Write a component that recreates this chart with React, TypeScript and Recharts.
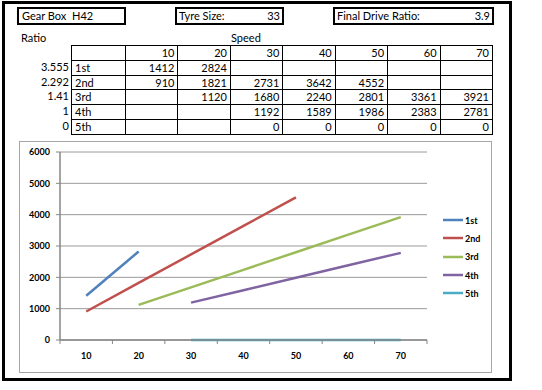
import React from "react";
import { LineChart, Line, XAxis, YAxis, CartesianGrid, Legend } from "recharts";

const speeds = [10, 20, 30, 40, 50, 60, 70];
const gears = ["1st", "2nd", "3rd", "4th", "5th"];
const ratios = ["3.555", "2.292", "1.41", "1", "0"];
const rpm1st = [1412, 2824, null, null, null, null, null];
const rpm2nd = [910, 1821, 2731, 3642, 4552, null, null];
const rpm3rd = [null, 1120, 1680, 2240, 2801, 3361, 3921];
const rpm4th = [null, null, 1192, 1589, 1986, 2383, 2781];
const rpm5th = [null, null, 0, 0, 0, 0, 0];
const yTicks = [0, 1000, 2000, 3000, 4000, 5000, 6000];
const colors = ["#4F81BD", "#C0504D", "#9BBB59", "#8064A2", "#4BACC6"];

const series = [rpm1st, rpm2nd, rpm3rd, rpm4th, rpm5th];
const data = speeds.map((speed, i) => {
  const row: Record<string, number | null> = { speed };
  gears.forEach((g, k) => (row[g] = series[k][i]));
  return row;
});

const font = "Lato, 'Liberation Sans', sans-serif";
const axisGrey = "#868686";

// spreadsheet column edges
const colX = [17, 71, 125, 177.4, 229.9, 282.3, 334.7, 387.1, 439.6, 492];
const rowTop = 45;
const rowH = 14.8;

function Cell({ r, c, text, align, border = true }: any) {
  const left = colX[c];
  const w = colX[c + 1] - left;
  return (
    <div
      style={{
        position: "absolute",
        left,
        top: rowTop + r * rowH,
        width: w + 1,
        height: rowH + 1,
        boxSizing: "border-box",
        border: border ? "1px solid #000" : "none",
        padding: "0 3px",
        fontSize: 11,
        lineHeight: `${rowH - 1}px`,
        textAlign: align,
        whiteSpace: "nowrap",
      }}
    >
      {text}
    </div>
  );
}

function Box({ left, right, children }: any) {
  return (
    <div
      style={{
        position: "absolute",
        left,
        top: 7,
        width: right - left,
        height: 18,
        boxSizing: "border-box",
        border: "2px solid #000",
        fontSize: 11,
        lineHeight: "14px",
      }}
    >
      {children}
    </div>
  );
}

function SpeedTick(props: any) {
  const { x, y, payload, index, visibleTicksCount } = props;
  const half = payload.offset ?? 0;
  return (
    <g>
      <line x1={x - half} y1={y} x2={x - half} y2={y + 4} stroke={axisGrey} />
      {index === visibleTicksCount - 1 && (
        <line x1={x + half} y1={y} x2={x + half} y2={y + 4} stroke={axisGrey} />
      )}
      <text x={x} y={y + 19} textAnchor="middle" fontSize={9} fontWeight="bold" fill="#000" fontFamily={font}>
        {payload.value}
      </text>
    </g>
  );
}

function GearLegend({ payload }: any) {
  return (
    <div style={{ fontFamily: font }}>
      {(payload || []).map((p: any) => (
        <div key={p.value} style={{ height: 18.3, display: "flex", alignItems: "center" }}>
          <svg width={22} height={6}>
            <line x1={0} y1={3} x2={20} y2={3} stroke={p.color} strokeWidth={2.5} />
          </svg>
          <span style={{ fontSize: 9, fontWeight: "bold", color: "#000" }}>{p.value}</span>
        </div>
      ))}
    </div>
  );
}

export default function App() {
  return (
    <div style={{ position: "absolute", left: 0, top: 0, width: 542, height: 390, background: "#fff", fontFamily: font, color: "#000" }}>
      <div style={{ position: "absolute", left: 2, top: 1, width: 510, height: 380, boxSizing: "border-box", border: "3px solid #000" }} />

      <Box left={17} right={126}>
        <span style={{ position: "absolute", left: 3 }}>Gear Box</span>
        <span style={{ position: "absolute", left: 53 }}>H42</span>
      </Box>
      <Box left={175} right={284}>
        <span style={{ position: "absolute", left: 2 }}>Tyre Size:</span>
        <span style={{ position: "absolute", right: 2 }}>33</span>
      </Box>
      <Box left={333} right={494}>
        <span style={{ position: "absolute", left: 2 }}>Final Drive Ratio:</span>
        <span style={{ position: "absolute", right: 2 }}>3.9</span>
      </Box>

      <div style={{ position: "absolute", left: 21, top: 31, fontSize: 11 }}>Ratio</div>
      <div style={{ position: "absolute", left: 231, top: 31, fontSize: 11 }}>Speed</div>

      <Cell r={0} c={0} text="" border={false} />
      <Cell r={0} c={1} text="" />
      {speeds.map((s, j) => (
        <Cell key={"h" + s} r={0} c={j + 2} text={s} align="right" />
      ))}
      {gears.map((g, k) => (
        <React.Fragment key={g}>
          <Cell r={k + 1} c={0} text={ratios[k]} align="right" border={false} />
          <Cell r={k + 1} c={1} text={g} align="left" />
          {speeds.map((s, j) => (
            <Cell key={g + s} r={k + 1} c={j + 2} text={series[k][j] ?? ""} align="right" />
          ))}
        </React.Fragment>
      ))}

      <div style={{ position: "absolute", left: 19, top: 141, width: 473, height: 232, boxSizing: "border-box", border: "1px solid #a6a6a6" }} />
      <div style={{ position: "absolute", left: 19, top: 141 }}>
        <LineChart width={473} height={232} data={data} margin={{ top: 11, right: 5, bottom: 3, left: 0 }}>
          <CartesianGrid vertical={false} stroke="#9a9a9a" />
          <XAxis
            dataKey="speed"
            scale="band"
            height={30}
            tickSize={0}
            tickMargin={0}
            tickLine={false}
            axisLine={{ stroke: axisGrey, strokeWidth: 1.5 }}
            tick={<SpeedTick />}
            interval={0}
          />
          <YAxis
            width={41}
            domain={[0, 6000]}
            ticks={yTicks}
            interval={0}
            tickSize={4}
            tickMargin={6}
            tickLine={{ stroke: axisGrey }}
            axisLine={{ stroke: axisGrey, strokeWidth: 1.5 }}
            tick={{ fontSize: 9, fontWeight: "bold", fill: "#000", fontFamily: font }}
          />
          <Legend
            layout="vertical"
            align="right"
            verticalAlign="top"
            width={60}
            wrapperStyle={{ left: 424, top: 70 }}
            content={<GearLegend />}
          />
          {gears.map((g, k) => (
            <Line
              key={g}
              dataKey={g}
              stroke={colors[k]}
              strokeWidth={2.5}
              dot={false}
              activeDot={false}
              isAnimationActive={false}
            />
          ))}
        </LineChart>
      </div>
    </div>
  );
}
